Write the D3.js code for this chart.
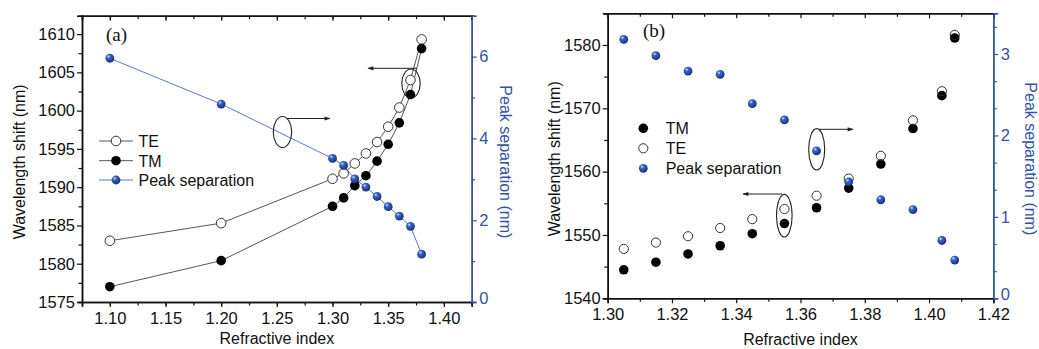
<!DOCTYPE html>
<html><head><meta charset="utf-8">
<script src="https://cdn.jsdelivr.net/npm/d3@7"></script>
<style>
html,body{margin:0;padding:0;background:#fff;}
svg{display:block;font-family:"Liberation Sans",Arial,sans-serif;}
</style></head>
<body>
<svg id="chart" width="1039" height="349"></svg>
<script>
// ---------- Panel (a) data ----------
const riA = [1.10, 1.20, 1.30, 1.31, 1.32, 1.33, 1.34, 1.35, 1.36, 1.37, 1.38];
const teA = [1583.0, 1585.3, 1591.1, 1591.8, 1593.1, 1594.4, 1595.9, 1597.9, 1600.4, 1604.0, 1609.3];
const tmA = [1577.0, 1580.4, 1587.5, 1588.6, 1590.2, 1591.5, 1593.4, 1595.6, 1598.4, 1602.1, 1608.1];
const sepA = [5.96, 4.84, 3.51, 3.34, 3.01, 2.81, 2.58, 2.33, 2.10, 1.85, 1.17];
const xTicksA = [1.10, 1.15, 1.20, 1.25, 1.30, 1.35, 1.40];
const yLTicksA = [1575, 1580, 1585, 1590, 1595, 1600, 1605, 1610];
const yRTicksA = [0, 2, 4, 6];

// ---------- Panel (b) data ----------
const riB = [1.305, 1.315, 1.325, 1.335, 1.345, 1.355, 1.365, 1.375, 1.385, 1.395, 1.404, 1.408];
const tmB = [1544.5, 1545.7, 1547.0, 1548.3, 1550.2, 1551.8, 1554.3, 1557.4, 1561.2, 1566.8, 1572.0, 1581.1];
const teB = [1547.8, 1548.8, 1549.8, 1551.1, 1552.5, 1554.1, 1556.2, 1558.9, 1562.5, 1568.1, 1572.7, 1581.6];
const sepB = [3.18, 2.98, 2.79, 2.75, 2.39, 2.19, 1.81, 1.43, 1.21, 1.09, 0.71, 0.47];
const xTicksB = [1.30, 1.32, 1.34, 1.36, 1.38, 1.40, 1.42];
const yLTicksB = [1540, 1550, 1560, 1570, 1580];
const yRTicksB = [0, 1, 2, 3];

const legendA = ["TE", "TM", "Peak separation"];
const legendB = ["TM", "TE", "Peak separation"];

const BLUE = "#3352a8";
const LINEBLUE = "#5d79c6";
const TICKFS = 16.5;
const svg = d3.select("#chart");

// ball gradient
const defs = svg.append("defs");
const g = defs.append("radialGradient").attr("id", "ball").attr("cx", "38%").attr("cy", "35%").attr("r", "65%").attr("fx", "35%").attr("fy", "30%");
g.append("stop").attr("offset", "0%").attr("stop-color", "#dfe8ff");
g.append("stop").attr("offset", "30%").attr("stop-color", "#3d66c8");
g.append("stop").attr("offset", "100%").attr("stop-color", "#16307a");
defs.append("marker").attr("id", "arr").attr("viewBox", "0 0 10 10").attr("refX", 9).attr("refY", 5)
  .attr("markerWidth", 7).attr("markerHeight", 6).attr("orient", "auto-start-reverse").attr("markerUnits", "userSpaceOnUse")
  .append("path").attr("d", "M0,1.5 L10,5 L0,8.5 Z").attr("fill", "#222");

function range(a, b, s) { const r = []; for (let v = a; v <= b + s * 1e-6; v += s) r.push(+v.toFixed(6)); return r; }

function panel(cfg) {
  const x = d3.scaleLinear().domain(cfg.xDom).range([cfg.x0, cfg.x1]);
  const yL = d3.scaleLinear().domain(cfg.yLDom).range([cfg.yB, cfg.yT]);
  const yR = d3.scaleLinear().domain(cfg.yRDom).range([cfg.yB, cfg.yT]);
  const gp = svg.append("g");

  const styleAx = (sel, col) => {
    sel.selectAll("path.domain").attr("stroke", col).attr("stroke-width", 1.5);
    sel.selectAll(".tick line").attr("stroke", col).attr("stroke-width", 1.2);
    sel.selectAll(".tick text").attr("fill", col).attr("font-size", TICKFS).attr("font-family", "Liberation Sans, Arial, sans-serif");
  };
  // minor ticks
  const minorX = gp.append("g").attr("transform", `translate(0,${cfg.yB})`)
    .call(d3.axisBottom(x).tickValues(cfg.xMinor).tickSize(3.5).tickFormat(""));
  styleAx(minorX, "#111");
  const minorTop = gp.append("g").attr("transform", `translate(0,${cfg.yT})`)
    .call(d3.axisTop(x).tickValues(cfg.xMinor).tickSize(-3.5).tickFormat(""));
  styleAx(minorTop, "#111");
  const minorL = gp.append("g").attr("transform", `translate(${cfg.x0},0)`)
    .call(d3.axisLeft(yL).tickValues(cfg.yLMinor).tickSize(3.5).tickFormat(""));
  styleAx(minorL, "#111");
  const minorR = gp.append("g").attr("transform", `translate(${cfg.x1},0)`)
    .call(d3.axisRight(yR).tickValues(cfg.yRMinor).tickSize(3.5).tickFormat(""));
  styleAx(minorR, BLUE);

  const ax = gp.append("g").attr("transform", `translate(0,${cfg.yB})`)
    .call(d3.axisBottom(x).tickValues(cfg.xTicks).tickSize(5).tickPadding(5).tickFormat(d3.format(".2f")));
  styleAx(ax, "#111");
  const at = gp.append("g").attr("transform", `translate(0,${cfg.yT})`)
    .call(d3.axisTop(x).tickValues(cfg.xTicks).tickSize(-5).tickFormat(""));
  styleAx(at, "#111");
  const al = gp.append("g").attr("transform", `translate(${cfg.x0},0)`)
    .call(d3.axisLeft(yL).tickValues(cfg.yLTicks).tickSize(5).tickPadding(2).tickFormat(d3.format("d")));
  styleAx(al, "#111");
  const ar = gp.append("g").attr("transform", `translate(${cfg.x1},0)`)
    .call(d3.axisRight(yR).tickValues(cfg.yRTicks).tickSize(5).tickPadding(2.5).tickFormat(d3.format("d")));
  styleAx(ar, BLUE);
  // nudge the zero label on the right axis so it sits beside the corner label
  ar.selectAll(".tick").filter(d => d === 0).select("text").attr("dy", "0.1em");

  // titles
  gp.append("text").attr("x", (cfg.x0 + cfg.x1) / 2).attr("y", cfg.xTitleY).attr("text-anchor", "middle")
    .attr("font-size", 16).attr("fill", "#111").text("Refractive index");
  gp.append("text").attr("transform", `translate(${cfg.yLTitleX},${(cfg.yT + cfg.yB) / 2 + 3}) rotate(-90)`)
    .attr("text-anchor", "middle").attr("font-size", 16).attr("fill", "#111").text("Wavelength shift (nm)");
  gp.append("text").attr("transform", `translate(${cfg.yRTitleX},${(cfg.yT + cfg.yB) / 2 + 3}) rotate(90)`)
    .attr("text-anchor", "middle").attr("font-size", 16).attr("fill", BLUE).text("Peak separation (nm)");
  gp.append("text").attr("x", cfg.labelX).attr("y", cfg.labelY).attr("font-family", "Liberation Serif, Times New Roman, serif")
    .attr("font-size", 19).attr("fill", "#111").text(cfg.label);
  return { x, yL, yR, g: gp };
}

function ball(sel, cx, cy, r) {
  sel.append("circle").attr("cx", cx).attr("cy", cy).attr("r", r).attr("fill", "url(#ball)");
}
function ellipse(gp, cx, cy, rx, ry) {
  gp.append("ellipse").attr("cx", cx).attr("cy", cy).attr("rx", rx).attr("ry", ry)
    .attr("fill", "none").attr("stroke", "#222").attr("stroke-width", 1.1);
}
function arrow(gp, x1, y1, x2, y2) {
  gp.append("line").attr("x1", x1).attr("y1", y1).attr("x2", x2).attr("y2", y2)
    .attr("stroke", "#222").attr("stroke-width", 1).attr("marker-end", "url(#arr)");
}

// ---------- Panel (a) ----------
const A = panel({
  x0: 82, x1: 471.7, yT: 15.7, yB: 302,
  xDom: [1.075, 1.425], yLDom: [1575, 1612.4], yRDom: [0, 7],
  xTicks: xTicksA, xMinor: range(1.075, 1.425, 0.025),
  yLTicks: yLTicksA, yLMinor: range(1577.5, 1612.4, 5),
  yRTicks: yRTicksA, yRMinor: [1, 3, 5, 7],
  xTitleY: 344, yLTitleX: 25, yRTitleX: 500, label: "(a)", labelX: 106, labelY: 41
});
{
  const { x, yL, yR, g: gp } = A;
  const lineL = d3.line().x(d => x(d[0])).y(d => yL(d[1]));
  const lineR = d3.line().x(d => x(d[0])).y(d => yR(d[1]));
  gp.append("path").attr("d", lineL(d3.zip(riA, teA))).attr("fill", "none").attr("stroke", "#555").attr("stroke-width", 1);
  gp.append("path").attr("d", lineL(d3.zip(riA, tmA))).attr("fill", "none").attr("stroke", "#555").attr("stroke-width", 1);
  gp.append("path").attr("d", lineR(d3.zip(riA, sepA))).attr("fill", "none").attr("stroke", LINEBLUE).attr("stroke-width", 1);
  riA.forEach((r, i) => {
    gp.append("circle").attr("cx", x(r)).attr("cy", yL(teA[i])).attr("r", 4.8).attr("fill", "#fff").attr("stroke", "#333").attr("stroke-width", 1);
  });
  riA.forEach((r, i) => {
    gp.append("circle").attr("cx", x(r)).attr("cy", yL(tmA[i])).attr("r", 4.8).attr("fill", "#000");
  });
  riA.forEach((r, i) => ball(gp, x(r), yR(sepA[i]), 4.4));
  // annotations
  ellipse(gp, 282.5, 132, 9.2, 15.5);
  arrow(gp, 287, 118.5, 330, 118.5);
  ellipse(gp, 411, 83.5, 9.2, 14.5);
  arrow(gp, 417, 68.3, 368, 68.3);
  // legend
  const ly = [141, 160.7, 180];
  legendA.forEach((t, i) => {
    const lg = gp.append("g");
    lg.append("line").attr("x1", 99).attr("x2", 133).attr("y1", ly[i]).attr("y2", ly[i])
      .attr("stroke", i === 2 ? LINEBLUE : "#555").attr("stroke-width", 1);
    if (i === 0) lg.append("circle").attr("cx", 116).attr("cy", ly[i]).attr("r", 4.8).attr("fill", "#fff").attr("stroke", "#333");
    else if (i === 1) lg.append("circle").attr("cx", 116).attr("cy", ly[i]).attr("r", 4.8).attr("fill", "#000");
    else ball(lg, 116, ly[i], 4.4);
    lg.append("text").attr("x", 138.5).attr("y", ly[i] + 6).attr("font-size", 16).attr("fill", "#111").text(t);
  });
}

// ---------- Panel (b) ----------
const B = panel({
  x0: 607.7, x1: 993.3, yT: 13.3, yB: 298.3,
  xDom: [1.30, 1.42], yLDom: [1540, 1585], yRDom: [0, 3.5],
  xTicks: xTicksB, xMinor: range(1.31, 1.41, 0.02),
  yLTicks: yLTicksB, yLMinor: [1545, 1555, 1565, 1575, 1585],
  yRTicks: yRTicksB, yRMinor: [1/3, 2/3, 4/3, 5/3, 7/3, 8/3, 10/3],
  xTitleY: 345, yLTitleX: 560, yRTitleX: 1025, label: "(b)", labelX: 643, labelY: 37
});
{
  const { x, yL, yR, g: gp } = B;
  riB.forEach((r, i) => {
    gp.append("circle").attr("cx", x(r)).attr("cy", yL(tmB[i])).attr("r", 4.8).attr("fill", "#000");
  });
  riB.forEach((r, i) => {
    gp.append("circle").attr("cx", x(r)).attr("cy", yL(teB[i])).attr("r", 4.6).attr("fill", "none").attr("stroke", "#333").attr("stroke-width", 1);
  });
  riB.forEach((r, i) => ball(gp, x(r), yR(sepB[i]), 4.4));
  ellipse(gp, 784.3, 215.7, 7.8, 21.3);
  arrow(gp, 782, 194, 743, 194);
  ellipse(gp, 816.7, 149.3, 8, 20.7);
  arrow(gp, 819, 129.3, 853, 129.3);
  const ly = [128.3, 148.3, 168.3];
  legendB.forEach((t, i) => {
    const lg = gp.append("g");
    if (i === 0) lg.append("circle").attr("cx", 643.3).attr("cy", ly[i]).attr("r", 4.8).attr("fill", "#000");
    else if (i === 1) lg.append("circle").attr("cx", 643.3).attr("cy", ly[i]).attr("r", 4.6).attr("fill", "#fff").attr("stroke", "#333");
    else ball(lg, 643.3, ly[i], 4.4);
    lg.append("text").attr("x", 665.7).attr("y", ly[i] + 6).attr("font-size", 16).attr("fill", "#111").text(t);
  });
}
</script>
</body></html>
